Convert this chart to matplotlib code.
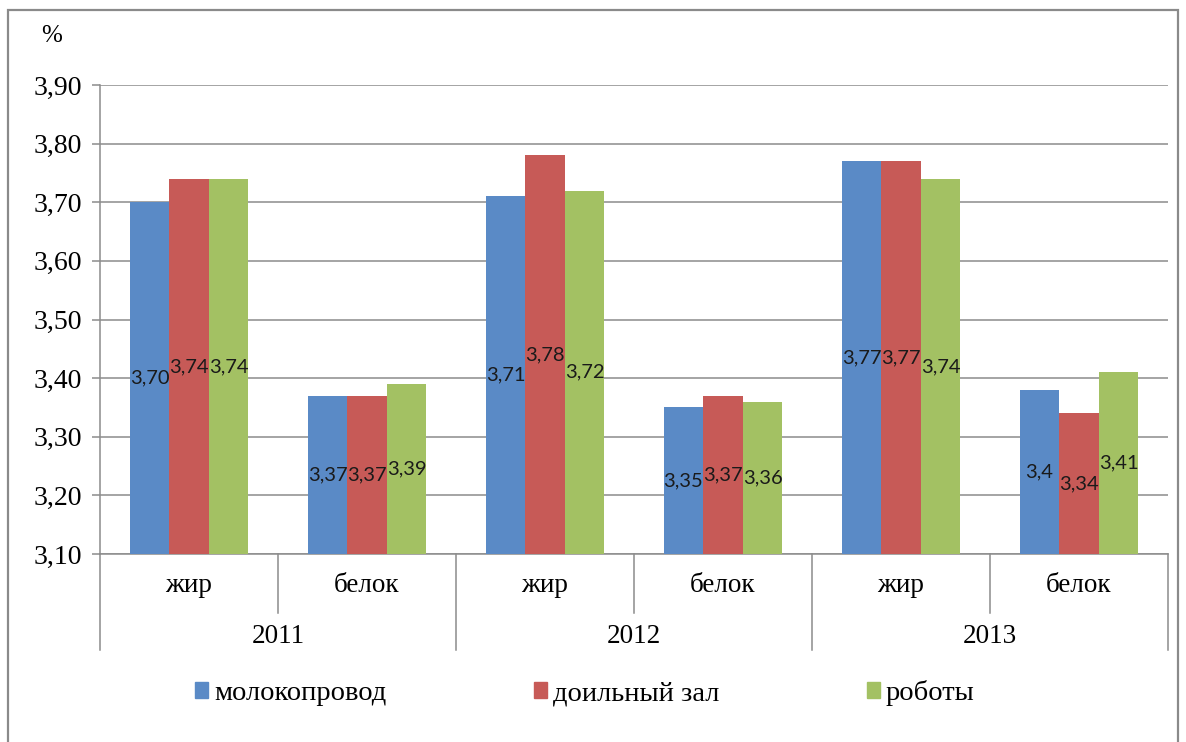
import numpy as np
import matplotlib.pyplot as plt
from matplotlib.patches import Rectangle, Patch
from matplotlib.ticker import FuncFormatter
import matplotlib.transforms as mtransforms

years = ['2011', '2012', '2013']
components = ['жир', 'белок']
series = ['молокопровод', 'доильный зал', 'роботы']

# rows: 2011 жир, 2011 белок, 2012 жир, 2012 белок, 2013 жир, 2013 белок
molokoprovod = [3.70, 3.37, 3.71, 3.35, 3.77, 3.38]
doilny_zal = [3.74, 3.37, 3.78, 3.37, 3.77, 3.34]
roboty = [3.74, 3.39, 3.72, 3.36, 3.74, 3.41]

molokoprovod_labels = ['3,70', '3,37', '3,71', '3,35', '3,77', '3,4']
doilny_zal_labels = ['3,74', '3,37', '3,78', '3,37', '3,77', '3,34']
roboty_labels = ['3,74', '3,39', '3,72', '3,36', '3,74', '3,41']

colors = ['#5A8AC6', '#C75A57', '#A3C163']
grid_col = '#8C8C8C'
serif = 'Liberation Serif'

W, H = 1186, 742
fig = plt.figure(figsize=(W / 100, H / 100), dpi=100)
ax = fig.add_axes([100 / W, 1 - 554 / H, (1168 - 100) / W, (554 - 85) / H])

# outer chart frame
fig.patches.append(Rectangle((8 / W, -0.05), (1178 - 8) / W, 1 - 10 / H + 0.05,
                             transform=fig.transFigure, fill=False,
                             edgecolor='#8A8A8A', linewidth=1.6))

x = np.arange(len(molokoprovod))
bw = 0.222
all_vals = [molokoprovod, doilny_zal, roboty]
all_labels = [molokoprovod_labels, doilny_zal_labels, roboty_labels]
ymin = 3.10
handles = []
for i, (vals, labs) in enumerate(zip(all_vals, all_labels)):
    xs = x + (i - 1) * bw
    ax.bar(xs, np.array(vals) - ymin, bottom=ymin, width=bw,
           color=colors[i], zorder=3, label=series[i])
    handles.append(Patch(color=colors[i], label=series[i]))
    for xi, v, t in zip(xs, vals, labs):
        ax.text(xi, (ymin + v) / 2, t, ha='center', va='center',
                fontsize=14.5, family='Lato', color='#1A1A1A', zorder=4)

ax.set_xlim(-0.5, len(x) - 0.5)
ax.set_ylim(3.10, 3.90)
ax.set_yticks(np.arange(3.10, 3.901, 0.10))
ax.yaxis.set_major_formatter(FuncFormatter(lambda v, p: f'{v:.2f}'.replace('.', ',')))
ax.yaxis.grid(True, color=grid_col, linewidth=1.1, zorder=0)
ax.set_axisbelow(True)
ax.set_xticks([])
ax.tick_params(axis='y', length=6, color=grid_col, width=1.1, pad=7,
               labelsize=20)
for lab in ax.get_yticklabels():
    lab.set_family(serif)
for s in ['top', 'right']:
    ax.spines[s].set_visible(False)
ax.spines['left'].set_color(grid_col)
ax.spines['bottom'].set_color(grid_col)
ax.spines['left'].set_linewidth(1.1)
ax.spines['bottom'].set_linewidth(1.1)

# hierarchical category axis
trans = mtransforms.blended_transform_factory(ax.transData, ax.transAxes)
for k in range(len(years)):
    ax.plot([2 * k + 0.5] * 2, [0, -0.126], transform=trans, color=grid_col,
            lw=1.1, clip_on=False)
for b in np.arange(-0.5, len(x), 2):
    ax.plot([b, b], [0, -0.205], transform=trans, color=grid_col,
            lw=1.1, clip_on=False)
for i in range(len(x)):
    ax.text(i, -0.068, components[i % 2], transform=trans, ha='center',
            va='center', fontsize=19.5, family=serif)
for k, yr in enumerate(years):
    ax.text(2 * k + 0.5, -0.176, yr, transform=trans, ha='center',
            va='center', fontsize=19.5, family=serif)

fig.text(52 / W, 1 - 36 / H, '%', ha='center', va='center', fontsize=18,
         family=serif)

fig.legend(handles=handles, loc='center', bbox_to_anchor=(585 / W, 1 - 693 / H),
           ncol=3, frameon=False, prop={'family': serif, 'size': 20.5},
           handlelength=0.45, handleheight=0.45, handletextpad=0.2,
           columnspacing=5.2)

fig.savefig('out.png', dpi=100, facecolor='white')
